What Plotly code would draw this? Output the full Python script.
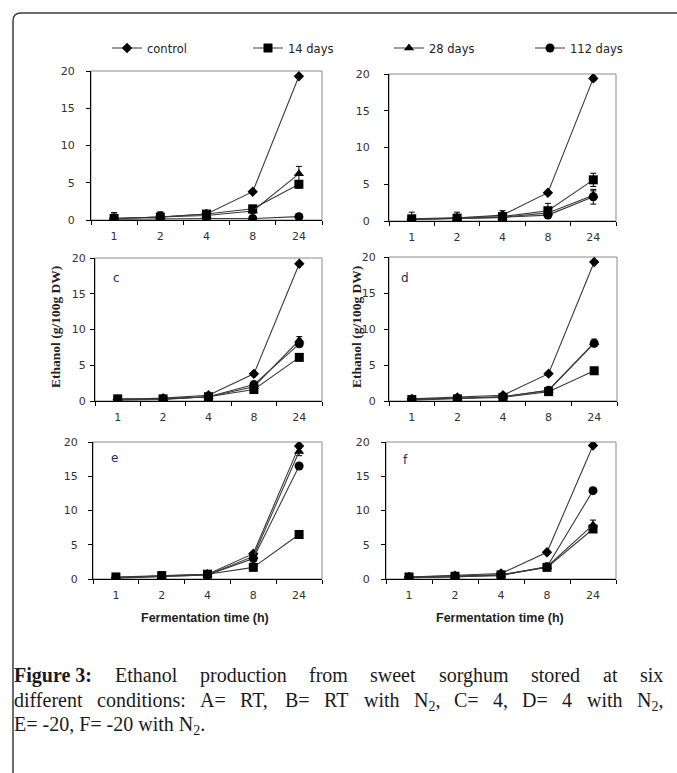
import re
import plotly.graph_objects as go

W, H = 677, 773

hours = ["1", "2", "4", "8", "24"]
series_names = ["control", "14 days", "28 days", "112 days"]
panel_letters = ["", "", "c", "d", "e", "f"]

# Panel A (RT)
a_control = [0.2, 0.4, 0.8, 3.8, 19.3]
a_d14 = [0.2, 0.4, 0.8, 1.5, 4.8]
a_d28 = [0.2, 0.4, 0.6, 1.2, 6.2]
a_d112 = [0.1, 0.2, 0.2, 0.2, 0.45]
a_err_control = [0.1, 0.1, 0.1, 0.1, 0.2]
a_err_d14 = [0.6, 0.6, 0.2, 0.3, 0.5]
a_err_d28 = [0.8, 0.7, 0.2, 0.3, 1.0]
a_err_d112 = [0.2, 0.2, 0.1, 0.1, 0.1]

# Panel B (RT with N2)
b_control = [0.2, 0.4, 0.8, 3.85, 19.4]
b_d14 = [0.3, 0.4, 0.6, 1.4, 5.6]
b_d28 = [0.2, 0.3, 0.5, 1.1, 3.5]
b_d112 = [0.2, 0.3, 0.5, 0.8, 3.3]
b_err_control = [0.1, 0.1, 0.1, 0.1, 0.3]
b_err_d14 = [0.9, 0.8, 0.8, 1.0, 0.9]
b_err_d28 = [0.5, 0.5, 0.4, 0.4, 0.6]
b_err_d112 = [0.4, 0.4, 0.3, 0.3, 1.0]

# Panel C (4)
c_control = [0.2, 0.4, 0.8, 3.8, 19.2]
c_d14 = [0.3, 0.3, 0.6, 1.6, 6.1]
c_d28 = [0.2, 0.3, 0.6, 2.0, 8.5]
c_d112 = [0.1, 0.2, 0.6, 2.3, 8.0]
c_err_control = [0.1, 0.1, 0.1, 0.1, 0.2]
c_err_d14 = [0.1, 0.1, 0.1, 0.1, 0.2]
c_err_d28 = [0.1, 0.1, 0.1, 0.2, 0.5]
c_err_d112 = [0.1, 0.1, 0.1, 0.2, 0.4]

# Panel D (4 with N2)
d_control = [0.3, 0.5, 0.8, 3.8, 19.3]
d_d14 = [0.2, 0.3, 0.5, 1.3, 4.2]
d_d28 = [0.2, 0.4, 0.6, 1.5, 8.1]
d_d112 = [0.1, 0.3, 0.6, 1.5, 8.0]
d_err_control = [0.1, 0.1, 0.1, 0.1, 0.2]
d_err_d14 = [0.1, 0.1, 0.1, 0.1, 0.2]
d_err_d28 = [0.1, 0.1, 0.1, 0.1, 0.5]
d_err_d112 = [0.1, 0.1, 0.1, 0.1, 0.3]

# Panel E (-20)
e_control = [0.2, 0.4, 0.7, 3.7, 19.4]
e_d14 = [0.3, 0.5, 0.7, 1.7, 6.5]
e_d28 = [0.2, 0.4, 0.6, 3.3, 18.6]
e_d112 = [0.1, 0.3, 0.6, 3.0, 16.5]
e_err_control = [0.1, 0.1, 0.1, 0.2, 0.3]
e_err_d14 = [0.1, 0.1, 0.1, 0.1, 0.2]
e_err_d28 = [0.1, 0.1, 0.1, 0.2, 0.6]
e_err_d112 = [0.1, 0.1, 0.1, 0.2, 0.3]

# Panel F (-20 with N2)
f_control = [0.3, 0.5, 0.8, 3.9, 19.5]
f_d14 = [0.3, 0.4, 0.6, 1.7, 7.3]
f_d28 = [0.2, 0.3, 0.6, 1.8, 7.9]
f_d112 = [0.2, 0.3, 0.5, 1.8, 12.9]
f_err_control = [0.1, 0.1, 0.1, 0.2, 0.3]
f_err_d14 = [0.1, 0.1, 0.1, 0.1, 0.3]
f_err_d28 = [0.1, 0.1, 0.1, 0.2, 0.7]
f_err_d112 = [0.1, 0.1, 0.1, 0.1, 0.3]

caption_line1 = ["<b>Figure 3:</b>", "Ethanol", "production", "from", "sweet",
                 "sorghum", "stored", "at", "six"]
caption_line2 = ["different", "conditions:", "A=", "RT,", "B=", "RT", "with",
                 "N<sub>2</sub>,", "C=", "4,", "D=", "4", "with", "N<sub>2</sub>,"]
caption_line3 = "E= -20, F= -20 with N<sub>2</sub>."

panels = [
    ([a_control, a_d14, a_d28, a_d112], [a_err_control, a_err_d14, a_err_d28, a_err_d112]),
    ([b_control, b_d14, b_d28, b_d112], [b_err_control, b_err_d14, b_err_d28, b_err_d112]),
    ([c_control, c_d14, c_d28, c_d112], [c_err_control, c_err_d14, c_err_d28, c_err_d112]),
    ([d_control, d_d14, d_d28, d_d112], [d_err_control, d_err_d14, d_err_d28, d_err_d112]),
    ([e_control, e_d14, e_d28, e_d112], [e_err_control, e_err_d14, e_err_d28, e_err_d112]),
    ([f_control, f_d14, f_d28, f_d112], [f_err_control, f_err_d14, f_err_d28, f_err_d112]),
]

# plot-area boxes in pixels (left, right, top, bottom)
boxes = [
    (91, 322, 71, 220),
    (389, 616, 74, 221),
    (95, 322, 258, 401),
    (389, 617, 257, 401),
    (93, 322, 442, 579),
    (386, 616, 442, 579),
]
y_standoff = [9, 12, 2, 6, 8, 9]

symbols = ["diamond", "square", "triangle-up", "circle"]
msizes = [8, 9, 9, 9]

def px(x):
    return x / W

def py(y):
    return 1 - y / H

fig = go.Figure()
layout_axes = {}
shapes = []
TICKFONT = dict(family="DejaVu Sans", size=11, color="#333333")

for i, ((vals, errs), (l, r, t, b)) in enumerate(zip(panels, boxes)):
    n = i + 1
    xa = "x" if n == 1 else f"x{n}"
    ya = "y" if n == 1 else f"y{n}"
    for k in range(4):
        fig.add_trace(go.Scatter(
            x=hours, y=vals[k], xaxis=xa, yaxis=ya,
            mode="lines+markers", name=series_names[k],
            legendgroup=series_names[k], showlegend=(n == 1),
            line=dict(color="#3a3a3a", width=1.1),
            marker=dict(symbol=symbols[k], size=msizes[k], color="black"),
            error_y=dict(type="data", array=errs[k], visible=True,
                         color="black", thickness=1, width=3),
        ))
    xkey = "xaxis" if n == 1 else f"xaxis{n}"
    ykey = "yaxis" if n == 1 else f"yaxis{n}"
    layout_axes[xkey] = dict(
        domain=[px(l), px(r)], anchor=ya, type="category",
        categoryorder="array", categoryarray=hours,
        range=[-0.5, 4.5], tickson="boundaries", ticks="outside",
        ticklen=4, tickcolor="black", showline=True, linecolor="black",
        linewidth=1, showgrid=False, zeroline=False, tickfont=TICKFONT,
        ticklabelstandoff=6, automargin=False,
    )
    layout_axes[ykey] = dict(
        domain=[py(b), py(t)], anchor=xa, range=[0, 20], tickvals=[0, 5, 10, 15, 20],
        ticks="outside", ticklen=4, tickcolor="black", showline=True,
        linecolor="black", linewidth=1, showgrid=False, zeroline=False,
        tickfont=TICKFONT, ticklabelstandoff=y_standoff[i], automargin=False,
    )
    shapes.append(dict(type="rect", xref=f"{xa} domain", yref=f"{ya} domain",
                       x0=0, x1=1, y0=0, y1=1, layer="below",
                       line=dict(color="#8a8a8a", width=1)))

# rounded frame (top-left corner visible)
x0 = px(13)
yt = py(13)
rx, ry = 8 / W, 8 / H
shapes.append(dict(
    type="path", xref="paper", yref="paper",
    path=f"M {x0},-0.02 L {x0},{yt - ry} Q {x0},{yt} {x0 + rx},{yt} L 1.02,{yt}",
    line=dict(color="#3c3c3c", width=1.5)))

annotations = []
# panel letters
letter_pos = [None, None, (117, 278), (405, 278), (114, 458), (405, 460)]
for lab, pos in zip(panel_letters, letter_pos):
    if lab and pos:
        annotations.append(dict(x=px(pos[0]), y=py(pos[1]), xref="paper", yref="paper",
                                xanchor="center", yanchor="middle",
                                text=lab, showarrow=False,
                                font=dict(family="DejaVu Sans", size=12, color="#1f2a5c")))

# y-axis titles
for cx in (55, 356):
    annotations.append(dict(x=px(cx), y=py(327), xref="paper", yref="paper",
                            xanchor="center", yanchor="middle",
                            text="<b>Ethanol (g/100g DW)</b>", textangle=-90,
                            showarrow=False,
                            font=dict(family="Liberation Serif", size=13.5, color="#222222")))

# x-axis titles
for cx in (205, 500):
    annotations.append(dict(x=px(cx), y=py(618), xref="paper", yref="paper",
                            xanchor="center", yanchor="middle",
                            text="<b>Fermentation time (h)</b>", showarrow=False,
                            font=dict(family="Liberation Sans", size=12.5, color="#222222")))

# caption (justified) using Times metrics (Liberation Serif is metric-compatible)
REG = {" ": 250, ",": 250, "-": 333, ".": 250, ":": 278, "=": 564,
       "A": 722, "B": 667, "C": 667, "D": 722, "E": 611, "F": 556, "N": 722,
       "R": 667, "T": 611, "a": 444, "c": 444, "d": 500, "e": 444, "f": 333,
       "g": 500, "h": 500, "i": 278, "l": 278, "m": 778, "n": 500, "o": 500,
       "p": 500, "r": 333, "s": 389, "t": 278, "u": 500, "w": 722, "x": 500}
BOLD = {" ": 250, "F": 611, "i": 278, "g": 500, "u": 556, "r": 444, "e": 444, ":": 333}

def char_w(c, bold):
    if c.isdigit():
        return 500
    return (BOLD if bold else REG).get(c, 500)

def word_width(html, size):
    total = 0.0
    bold = "<b>" in html
    for part in re.split(r"(<sub>.*?</sub>)", html):
        txt = re.sub(r"<.*?>", "", part)
        f = 0.7 if part.startswith("<sub>") else 1.0
        total += sum(char_w(c, bold) for c in txt) * f
    return total * size / 1000.0

CAP_SIZE = 20
CAP_LEFT, CAP_RIGHT = 13, 662
CAP_FONT = dict(family="Liberation Serif", size=CAP_SIZE, color="#1a1a1a")

def justified(words, ycenter):
    widths = [word_width(w, CAP_SIZE) for w in words]
    gap = (CAP_RIGHT - CAP_LEFT - sum(widths)) / (len(words) - 1)
    x = CAP_LEFT
    for w, wd in zip(words, widths):
        annotations.append(dict(x=px(x), y=py(ycenter - 13), xref="paper", yref="paper",
                                xanchor="left", yanchor="top", text=w, showarrow=False,
                                font=CAP_FONT, borderpad=0))
        x += wd + gap

justified(caption_line1, 676)
justified(caption_line2, 701)
annotations.append(dict(x=px(CAP_LEFT), y=py(725 - 13), xref="paper", yref="paper",
                        xanchor="left", yanchor="top", text=caption_line3,
                        showarrow=False, font=CAP_FONT, borderpad=0))

fig.update_layout(
    width=W, height=H, margin=dict(l=0, r=0, t=0, b=0, autoexpand=False),
    paper_bgcolor="white", plot_bgcolor="white",
    shapes=shapes, annotations=annotations,
    legend=dict(orientation="h", x=px(107), y=py(48), xanchor="left", yanchor="middle",
                entrywidth=96, entrywidthmode="pixels", itemwidth=30,
                font=dict(family="DejaVu Sans", size=11.5, color="#222222"),
                bgcolor="rgba(0,0,0,0)"),
    **layout_axes,
)

fig.write_html("out.html",
               config={"displayModeBar": False},
               post_script=["document.body.style.margin='0px';"
                            "document.body.style.overflow='hidden';"])
